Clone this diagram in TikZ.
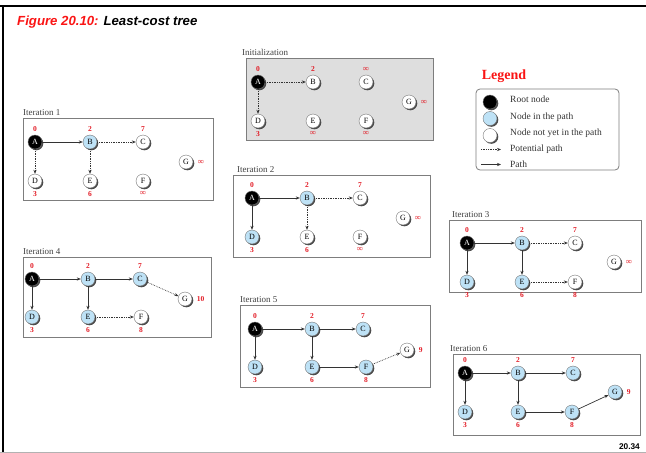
\documentclass[tikz,border=0pt]{standalone}
\usepackage{fontspec}
\setmainfont{Liberation Serif}
\newfontfamily\headfont{Liberation Sans}
\usetikzlibrary{shadows,arrows.meta}

\definecolor{costred}{RGB}{226,28,38}
\definecolor{headred}{RGB}{250,20,20}
\definecolor{pathblue}{RGB}{190,226,246}
\definecolor{framegray}{RGB}{125,125,125}
\definecolor{initgray}{RGB}{222,222,222}

\newcommand{\infcost}{\fontsize{8.5}{8.5}\selectfont ∞}

\tikzset{
  nd/.style={circle, minimum size=14pt, inner sep=0pt, draw=black!55, line width=0.4pt,
    fill=white, drop shadow={shadow xshift=1.3pt, shadow yshift=-1.3pt, fill=black!70, opacity=1},
    font=\fontsize{8}{8}\selectfont},
  root/.style={nd, fill=black, text=white},
  inpath/.style={nd, fill=pathblue},
  cost/.style={text=costred, font=\fontsize{7.5}{7.5}\selectfont\bfseries, inner sep=0.5pt},
  costup/.style={label={[cost, label distance=3pt]above:{#1}}},
  costdn/.style={label={[cost, label distance=2.5pt]below:{#1}}},
  gcost/.style={cost, anchor=west},
  arcpath/.style={draw=black!80, line width=0.7pt, -{Stealth[length=4pt,width=3.2pt]}},
  arcpot/.style={arcpath, densely dotted},
  panel/.style={draw=framegray, line width=0.8pt},
  ptitle/.style={anchor=base west, inner sep=0pt, text=black!75, font=\fontsize{9}{9}\selectfont},
  legtext/.style={anchor=west, inner sep=0pt, text=black!80, font=\fontsize{9.5}{9.5}\selectfont},
}

\begin{document}
\begin{tikzpicture}[x=1pt, y=-1pt]
\useasboundingbox (0,0) rectangle (646,453);

% page frame
\draw[line width=2.4pt] (0,6.2) -- (646,6.2);
\draw[line width=2.2pt] (3,6.2) -- (3,453);
\draw[black!30, line width=1pt] (0,452.3) -- (646,452.3);

% heading
\node[anchor=base west, inner sep=0pt, font=\headfont\fontsize{13.2}{13.2}\selectfont\bfseries\itshape] (head) at (17,25)
  {\textcolor{headred}{Figure 20.10:} Least-cost tree};
\node[anchor=base east, inner sep=0pt, font=\headfont\fontsize{8.3}{8.3}\selectfont\bfseries] (pgno) at (640,449) {20.34};

% ---------- Initialization ----------
\node[ptitle] (t0) at (242,55.5) {Initialization};
\draw[panel, fill=initgray] (246,58) rectangle (433,140);
\begin{scope}[shift={(258,82)}]
  \node[root, costup=0] (i0A) at (0,0) {A};
  \node[nd, costup=2] (i0B) at (55,0) {B};
  \node[nd, costup=\infcost] (i0C) at (108,0) {C};
  \node[nd] (i0G) at (151,20) {G};
  \node[nd, costdn=3] (i0D) at (0,39) {D};
  \node[nd, costdn=\infcost] (i0E) at (55,39) {E};
  \node[nd, costdn=\infcost] (i0F) at (108,39) {F};
  \node[gcost] (i0g) at ([xshift=4pt]i0G.east) {\infcost};
  \draw[arcpot] (i0A) -- (i0B);
  \draw[arcpot] (i0A) -- (i0D);
\end{scope}

% ---------- Iteration 1 ----------
\node[ptitle] (t1) at (23,115.5) {Iteration 1};
\draw[panel] (23,118) rectangle (213,200);
\begin{scope}[shift={(35,142)}]
  \node[root, costup=0] (i1A) at (0,0) {A};
  \node[inpath, costup=2] (i1B) at (55,0) {B};
  \node[nd, costup=7] (i1C) at (108,0) {C};
  \node[nd] (i1G) at (151,20) {G};
  \node[nd, costdn=3] (i1D) at (0,39) {D};
  \node[nd, costdn=6] (i1E) at (55,39) {E};
  \node[nd, costdn=\infcost] (i1F) at (108,39) {F};
  \node[gcost] (i1g) at ([xshift=4pt]i1G.east) {\infcost};
  \draw[arcpath] (i1A) -- (i1B);
  \draw[arcpot] (i1B) -- (i1C);
  \draw[arcpot] (i1A) -- (i1D);
  \draw[arcpot] (i1B) -- (i1E);
\end{scope}

% ---------- Iteration 2 ----------
\node[ptitle] (t2) at (237,172.5) {Iteration 2};
\draw[panel] (233,175) rectangle (430,257);
\begin{scope}[shift={(252,198)}]
  \node[root, costup=0] (i2A) at (0,0) {A};
  \node[inpath, costup=2] (i2B) at (55,0) {B};
  \node[nd, costup=7] (i2C) at (108,0) {C};
  \node[nd] (i2G) at (151,20) {G};
  \node[inpath, costdn=3] (i2D) at (0,39) {D};
  \node[nd, costdn=6] (i2E) at (55,39) {E};
  \node[nd, costdn=\infcost] (i2F) at (108,39) {F};
  \node[gcost] (i2g) at ([xshift=4pt]i2G.east) {\infcost};
  \draw[arcpath] (i2A) -- (i2B);
  \draw[arcpath] (i2A) -- (i2D);
  \draw[arcpot] (i2B) -- (i2C);
  \draw[arcpot] (i2B) -- (i2E);
\end{scope}

% ---------- Iteration 3 ----------
\node[ptitle] (t3) at (452,217.5) {Iteration 3};
\draw[panel] (449,220) rectangle (641,292);
\begin{scope}[shift={(467,243)}]
  \node[root, costup=0] (i3A) at (0,0) {A};
  \node[inpath, costup=2] (i3B) at (55,0) {B};
  \node[nd, costup=7] (i3C) at (108,0) {C};
  \node[nd] (i3G) at (147,19) {G};
  \node[inpath, costdn=3] (i3D) at (0,39) {D};
  \node[inpath, costdn=6] (i3E) at (55,39) {E};
  \node[nd, costdn=8] (i3F) at (108,39) {F};
  \node[gcost] (i3g) at ([xshift=4pt]i3G.east) {\infcost};
  \draw[arcpath] (i3A) -- (i3B);
  \draw[arcpath] (i3A) -- (i3D);
  \draw[arcpath] (i3B) -- (i3E);
  \draw[arcpot] (i3B) -- (i3C);
  \draw[arcpot] (i3E) -- (i3F);
\end{scope}

% ---------- Iteration 4 ----------
\node[ptitle] (t4) at (23,254.5) {Iteration 4};
\draw[panel] (23,257) rectangle (211,337);
\begin{scope}[shift={(32,279)}]
  \node[root, costup=0] (i4A) at (0,0) {A};
  \node[inpath, costup=2] (i4B) at (56,0) {B};
  \node[inpath, costup=7] (i4C) at (108,0) {C};
  \node[nd] (i4G) at (153,20) {G};
  \node[inpath, costdn=3] (i4D) at (0,38) {D};
  \node[inpath, costdn=6] (i4E) at (56,38) {E};
  \node[nd, costdn=8] (i4F) at (109,38) {F};
  \node[gcost] (i4g) at ([xshift=4pt]i4G.east) {10};
  \draw[arcpath] (i4A) -- (i4B);
  \draw[arcpath] (i4A) -- (i4D);
  \draw[arcpath] (i4B) -- (i4E);
  \draw[arcpath] (i4B) -- (i4C);
  \draw[arcpot] (i4C) -- (i4G);
  \draw[arcpot] (i4E) -- (i4F);
\end{scope}

% ---------- Iteration 5 ----------
\node[ptitle] (t5) at (240,302.5) {Iteration 5};
\draw[panel] (240,305) rectangle (430,387);
\begin{scope}[shift={(255,329)}]
  \node[root, costup=0] (i5A) at (0,0) {A};
  \node[inpath, costup=2] (i5B) at (57,0) {B};
  \node[inpath, costup=7] (i5C) at (108,0) {C};
  \node[nd] (i5G) at (152,21) {G};
  \node[inpath, costdn=3] (i5D) at (0,38) {D};
  \node[inpath, costdn=6] (i5E) at (57,38) {E};
  \node[inpath, costdn=8] (i5F) at (111,38) {F};
  \node[gcost] (i5g) at ([xshift=4pt]i5G.east) {\textcolor{costred}{9}};
  \draw[arcpath] (i5A) -- (i5B);
  \draw[arcpath] (i5A) -- (i5D);
  \draw[arcpath] (i5B) -- (i5C);
  \draw[arcpath] (i5B) -- (i5E);
  \draw[arcpath] (i5E) -- (i5F);
  \draw[arcpot] (i5F) -- (i5G);
\end{scope}

% ---------- Iteration 6 ----------
\node[ptitle] (t6) at (450,351.5) {Iteration 6};
\draw[panel] (453,354) rectangle (640,435);
\begin{scope}[shift={(465,373)}]
  \node[root, costup=0] (i6A) at (0,0) {A};
  \node[inpath, costup=2] (i6B) at (53,0) {B};
  \node[inpath, costup=7] (i6C) at (108,0) {C};
  \node[inpath] (i6G) at (150,19) {G};
  \node[inpath, costdn=3] (i6D) at (0,39) {D};
  \node[inpath, costdn=6] (i6E) at (53,39) {E};
  \node[inpath, costdn=8] (i6F) at (107,39) {F};
  \node[gcost] (i6g) at ([xshift=4pt]i6G.east) {\textcolor{costred}{9}};
  \draw[arcpath] (i6A) -- (i6B);
  \draw[arcpath] (i6A) -- (i6D);
  \draw[arcpath] (i6B) -- (i6C);
  \draw[arcpath] (i6B) -- (i6E);
  \draw[arcpath] (i6E) -- (i6F);
  \draw[arcpath] (i6F) -- (i6G);
\end{scope}

% ---------- Legend ----------
\node[text=headred, font=\fontsize{14}{14}\selectfont\bfseries, inner sep=0pt] (lgHead) at (504,76) {Legend};
\draw[framegray, line width=0.8pt, rounded corners=4pt] (476,89) rectangle (619,170);
\node[root] (lgRoot) at (490,102) {};
\node[inpath] (lgPath) at (490,118.5) {};
\node[nd] (lgNew) at (490,135.5) {};
\coordinate (lgPotA) at (481,149.5);
\coordinate (lgPotB) at (501,149.5);
\coordinate (lgArcA) at (481,164.5);
\coordinate (lgArcB) at (501,164.5);
\draw[arcpot] (lgPotA) -- (lgPotB);
\draw[arcpath] (lgArcA) -- (lgArcB);
\node[legtext] (lgT1) at (510,99.5) {Root node};
\node[legtext] (lgT2) at (510,117) {Node in the path};
\node[legtext] (lgT3) at (510,133.5) {Node not yet in the path};
\node[legtext] (lgT4) at (510,149.5) {Potential path};
\node[legtext] (lgT5) at (510,164.5) {Path};
\end{tikzpicture}
\end{document}
